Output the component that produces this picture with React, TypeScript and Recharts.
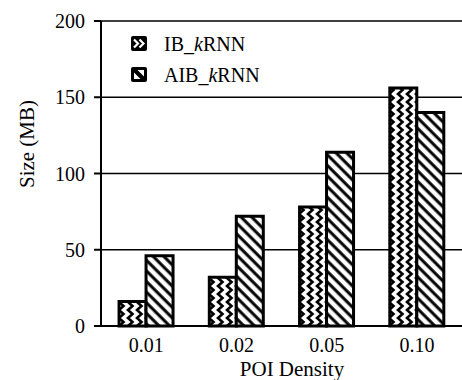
import { Bar, BarChart, CartesianGrid, Legend, XAxis, YAxis } from "recharts";

const densities = ["0.01", "0.02", "0.05", "0.10"];
const ibKrnn = [16, 32, 78, 156];
const aibKrnn = [46, 72, 114, 140];
const sizeTicks = [0, 50, 100, 150, 200];

const FONT = '"Liberation Serif", "Times New Roman", serif';

const data = densities.map((d, i) => ({
  density: d,
  IB: ibKrnn[i],
  AIB: aibKrnn[i],
}));

function IbIcon() {
  return (
    <svg width={16} height={15}>
      <rect x={0} y={0} width={16} height={15} rx={2} fill="#000" />
      <polyline points="3,3.5 7,7.5 3,11.5" fill="none" stroke="#fff" strokeWidth={2.2} />
      <polyline points="8.5,3.5 12.5,7.5 8.5,11.5" fill="none" stroke="#fff" strokeWidth={2.2} />
    </svg>
  );
}

function AibIcon() {
  return (
    <svg width={16} height={15}>
      <rect x={0} y={0} width={16} height={15} rx={2} fill="#000" />
      <polygon points="6.5,3 13,3 13,9.5" fill="#fff" />
      <polygon points="3,5.5 3,12 9.5,12" fill="#fff" />
    </svg>
  );
}

function LegendBox() {
  const rows = [
    { icon: <IbIcon />, prefix: "IB_" },
    { icon: <AibIcon />, prefix: "AIB_" },
  ];
  return (
    <div style={{ fontFamily: FONT, fontSize: 20, color: "#000" }}>
      {rows.map((r) => (
        <div
          key={r.prefix}
          style={{ display: "flex", alignItems: "center", height: 31 }}
        >
          {r.icon}
          <span style={{ marginLeft: 17, lineHeight: "20px" }}>
            {r.prefix}
            <i>k</i>RNN
          </span>
        </div>
      ))}
    </div>
  );
}

export default function App() {
  return (
    <div style={{ position: "absolute", left: 0, top: 0, background: "#fff" }}>
      <svg width={0} height={0} style={{ position: "absolute" }}>
        <defs>
          <pattern id="zig" patternUnits="userSpaceOnUse" width={9} height={8}>
            <rect width={9} height={8} fill="#fff" />
            <polyline
              points="2,-2 6.5,2 2,6 6.5,10"
              fill="none"
              stroke="#000"
              strokeWidth={2.6}
            />
          </pattern>
          <pattern
            id="diag"
            patternUnits="userSpaceOnUse"
            width={7.5}
            height={7.5}
            patternTransform="rotate(-45)"
          >
            <rect width={7.5} height={7.5} fill="#fff" />
            <line x1={2} y1={0} x2={2} y2={7.5} stroke="#000" strokeWidth={3} />
          </pattern>
        </defs>
      </svg>
      <BarChart
        width={462}
        height={380}
        data={data}
        margin={{ top: 21, right: 0, bottom: 0, left: 0 }}
        barCategoryGap="20%"
        barGap={0}
      >
        <CartesianGrid vertical={false} stroke="#000" strokeWidth={1.5} />
        <XAxis
          dataKey="density"
          height={54}
          tickLine={false}
          tickSize={0}
          tickMargin={12}
          axisLine={{ stroke: "#000", strokeWidth: 2 }}
          tick={{ fill: "#000", fontSize: 20, fontFamily: FONT }}
          label={() => (
            <text
              x={292}
              y={376}
              textAnchor="middle"
              fontSize={21}
              fontFamily={FONT}
              fill="#000"
            >
              POI Density
            </text>
          )}
        />
        <YAxis
          width={101}
          domain={[0, 200]}
          ticks={sizeTicks}
          tickSize={7}
          tickMargin={9}
          axisLine={{ stroke: "#000", strokeWidth: 2 }}
          tickLine={{ stroke: "#000", strokeWidth: 2 }}
          tick={{ fill: "#000", fontSize: 20, fontFamily: FONT }}
          label={() => (
            <text
              x={27}
              y={144}
              transform="rotate(-90 27 144)"
              textAnchor="middle"
              dominantBaseline="central"
              fontSize={21}
              fontFamily={FONT}
              fill="#000"
            >
              Size (MB)
            </text>
          )}
        />
        <Legend
          layout="vertical"
          verticalAlign="middle"
          align="center"
          content={() => <LegendBox />}
          wrapperStyle={{ left: 131, top: 28, width: "auto" }}
        />
        <Bar
          dataKey="IB"
          fill="url(#zig)"
          stroke="#000"
          strokeWidth={3}
          isAnimationActive={false}
        />
        <Bar
          dataKey="AIB"
          fill="url(#diag)"
          stroke="#000"
          strokeWidth={3}
          isAnimationActive={false}
        />
      </BarChart>
    </div>
  );
}
